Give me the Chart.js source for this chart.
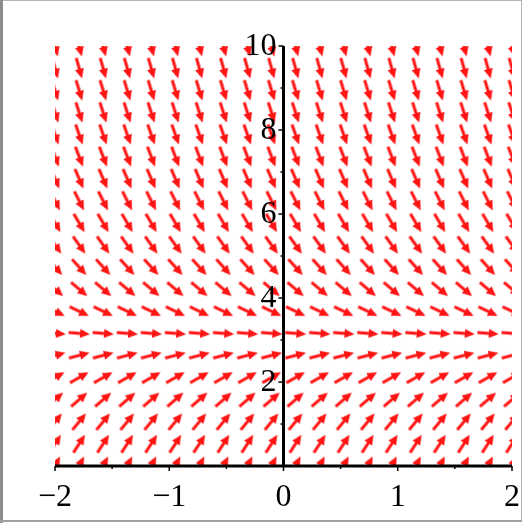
<!DOCTYPE html>
<html>
<head>
<meta charset="utf-8">
<script src="https://cdn.jsdelivr.net/npm/chart.js@4.4.0/dist/chart.umd.min.js"></script>
<style>
  html, body { margin: 0; padding: 0; background: #fff; }
  canvas { display: block; }
</style>
</head>
<body>
<canvas id="field" width="524" height="525"></canvas>
<script>
// 20 x 20 grid of the direction field
const xValues = [-2, -1.789, -1.579, -1.368, -1.158, -0.947, -0.737, -0.526, -0.316, -0.105,
                 0.105, 0.316, 0.526, 0.737, 0.947, 1.158, 1.368, 1.579, 1.789, 2];
const yValues = [0, 0.526, 1.053, 1.579, 2.105, 2.632, 3.158, 3.684, 4.211, 4.737,
                 5.263, 5.789, 6.316, 6.842, 7.368, 7.895, 8.421, 8.947, 9.474, 10];
// slope dy/dx of the arrows in each row (same along a row)
const rowSlopes = [5.2, 4.2, 3.3, 2.35, 1.55, 0.7, -0.22, -1.3, -2.3, -3.0,
                   -3.8, -4.6, -5.4, -6.3, -7.1, -7.7, -8.4, -9.0, -9.7, -10.4];

const xTicks = [-2, -1, 0, 1, 2];
const xTickLabels = ['\u22122', '\u22121', '0', '1', '2'];
const xMinorTicks = [-1.5, -0.5, 0.5, 1.5];
const yTicks = [2, 4, 6, 8, 10];
const yTickLabels = ['2', '4', '6', '8', '10'];
const yMinorTicks = [1, 3, 5, 7, 9];

const arrowColor = '#ff1414';
const labelFont = '32px "Liberation Serif", "Times New Roman", serif';

// arrow sprite pointing right, centred on its grid point
function makeArrow() {
  const c = document.createElement('canvas');
  c.width = 24;
  c.height = 12;
  const g = c.getContext('2d');
  g.fillStyle = arrowColor;
  g.fillRect(1.5, 4.5, 13, 3);
  g.beginPath();
  g.moveTo(22.8, 6);
  g.lineTo(13, 1.4);
  g.lineTo(13, 10.6);
  g.closePath();
  g.fill();
  return c;
}

const points = [];
yValues.forEach((y, j) => {
  xValues.forEach(x => points.push({ x, y, s: rowSlopes[j] }));
});

const framePlugin = {
  id: 'frame',
  beforeDraw(chart) {
    const ctx = chart.ctx;
    ctx.save();
    ctx.fillStyle = '#fff';
    ctx.fillRect(0, 0, chart.width, chart.height);
    ctx.fillStyle = '#b4b4b4';
    ctx.fillRect(0, 0, 522, 1);
    ctx.fillRect(521, 0, 1, 522);
    ctx.fillStyle = '#8c8c8c';
    ctx.fillRect(0, 0, 3, 523);
    ctx.fillStyle = '#a0a0a0';
    ctx.fillRect(0, 520, 522, 2);
    ctx.restore();
  }
};

const axesPlugin = {
  id: 'axes',
  afterDatasetsDraw(chart) {
    const ctx = chart.ctx;
    const xs = chart.scales.x, ys = chart.scales.y;
    const x0 = xs.getPixelForValue(0), y0 = ys.getPixelForValue(0);
    ctx.save();
    ctx.strokeStyle = '#000';
    ctx.lineWidth = 3;
    ctx.beginPath();
    ctx.moveTo(xs.getPixelForValue(-2), y0);
    ctx.lineTo(xs.getPixelForValue(2), y0);
    ctx.moveTo(x0, ys.getPixelForValue(0));
    ctx.lineTo(x0, ys.getPixelForValue(10));
    ctx.stroke();

    ctx.lineWidth = 1.5;
    ctx.beginPath();
    xTicks.forEach(v => { const p = xs.getPixelForValue(v); ctx.moveTo(p, y0); ctx.lineTo(p, y0 + 5); });
    xMinorTicks.forEach(v => { const p = xs.getPixelForValue(v); ctx.moveTo(p, y0); ctx.lineTo(p, y0 + 3); });
    yTicks.forEach(v => { const p = ys.getPixelForValue(v); ctx.moveTo(x0, p); ctx.lineTo(x0 - 5, p); });
    yMinorTicks.forEach(v => { const p = ys.getPixelForValue(v); ctx.moveTo(x0, p); ctx.lineTo(x0 - 3, p); });
    ctx.stroke();

    ctx.fillStyle = '#000';
    ctx.font = labelFont;
    ctx.textAlign = 'center';
    ctx.textBaseline = 'alphabetic';
    xTicks.forEach((v, i) => ctx.fillText(xTickLabels[i], xs.getPixelForValue(v), y0 + 40));
    ctx.textAlign = 'right';
    ctx.textBaseline = 'middle';
    yTicks.forEach((v, i) => ctx.fillText(yTickLabels[i], x0 - 7, ys.getPixelForValue(v) + 1));
    ctx.restore();
  }
};

const arrow = makeArrow();

new Chart(document.getElementById('field').getContext('2d'), {
  type: 'scatter',
  data: {
    datasets: [{
      data: points,
      pointStyle: arrow,
      radius: 1,
      clip: 0,
      rotation: c => {
        if (!c.raw) return 0;
        const sc = c.chart.scales;
        const sx = sc.x.getPixelForValue(1) - sc.x.getPixelForValue(0);
        const sy = sc.y.getPixelForValue(0) - sc.y.getPixelForValue(1);
        return Math.atan2(-c.raw.s * sy, sx) * 180 / Math.PI;
      }
    }]
  },
  options: {
    responsive: false,
    animation: false,
    events: [],
    layout: { padding: { left: 55, right: 12, top: 46, bottom: 59 } },
    scales: {
      x: { type: 'linear', min: -2, max: 2, display: false },
      y: { type: 'linear', min: 0, max: 10, display: false }
    },
    plugins: {
      legend: { display: false },
      tooltip: { enabled: false }
    }
  },
  plugins: [framePlugin, axesPlugin]
});
</script>
</body>
</html>
